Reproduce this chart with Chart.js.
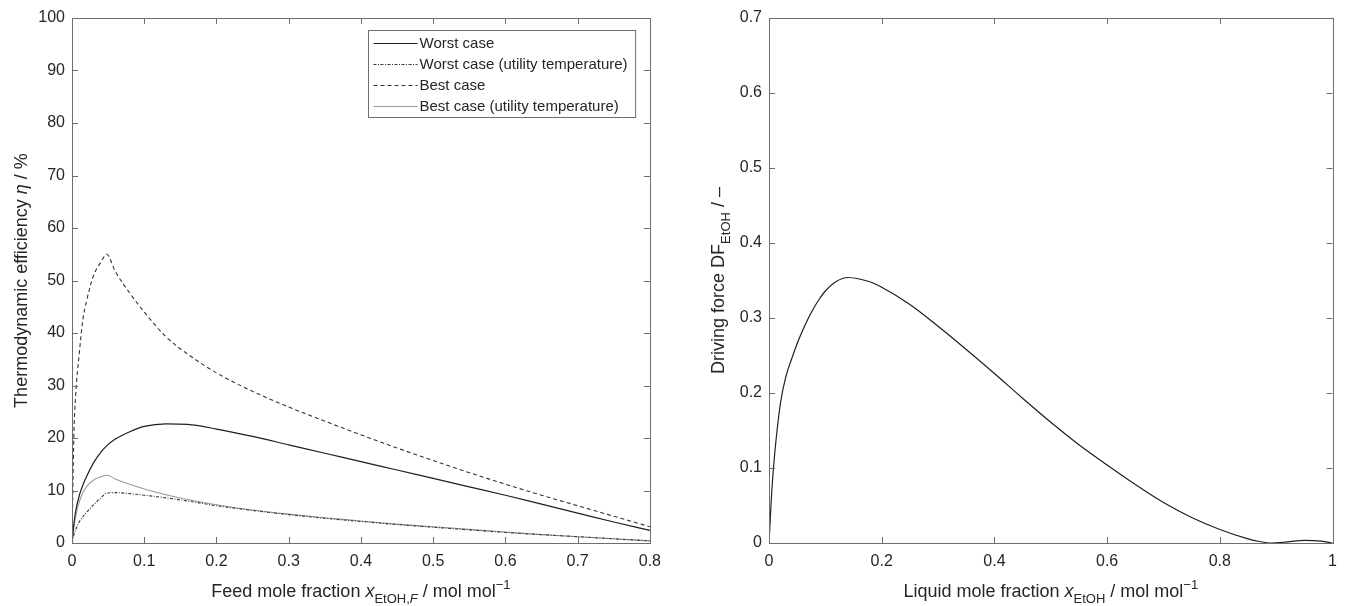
<!DOCTYPE html>
<html>
<head>
<meta charset="utf-8">
<title>Thermodynamic efficiency and driving force</title>
<script src="https://cdn.jsdelivr.net/npm/chart.js@4/dist/chart.umd.min.js"></script>
<style>
  html, body { margin: 0; padding: 0; background: #fff; }
  #wrap { position: relative; width: 1346px; height: 606px; overflow: hidden; }
  #effBox { position: absolute; left: 0; top: 0; width: 670px; height: 606px; }
  #dfBox { position: absolute; left: 680px; top: 0; width: 666px; height: 606px; }
</style>
</head>
<body>
<div id="wrap">
  <div id="effBox"><canvas id="effChart" width="670" height="606"></canvas></div>
  <div id="dfBox"><canvas id="dfChart" width="666" height="606"></canvas></div>
</div>
<script>
// ---- left panel: thermodynamic efficiency vs feed mole fraction ----
const feedX = [0, 0.0025, 0.005, 0.01, 0.015, 0.02, 0.03, 0.04, 0.048, 0.06, 0.08, 0.1, 0.13, 0.16, 0.2,
  0.25, 0.3, 0.35, 0.4, 0.45, 0.5, 0.55, 0.6, 0.65, 0.7, 0.75, 0.8];
const worstCase = [0, 3.5, 6, 9, 11, 12.6, 15.3, 17.3, 18.5, 19.8, 21.2, 22.2, 22.7, 22.6, 21.7,
  20.3, 18.7, 17.1, 15.5, 13.9, 12.3, 10.7, 9.1, 7.4, 5.7, 4.0, 2.4];
const worstUtility = [0, 1.5, 2.5, 4, 5, 5.8, 7.3, 8.6, 9.5, 9.6, 9.4, 9.1, 8.6, 8.0, 7.1,
  6.2, 5.4, 4.7, 4.1, 3.5, 3.0, 2.5, 2.0, 1.6, 1.2, 0.8, 0.4];
const bestCase = [0, 20, 28, 36, 42.5, 46, 51, 53.5, 55, 51.7, 47.6, 44.0, 39.3, 36.0, 32.4,
  28.9, 25.9, 23.2, 20.6, 18.1, 15.7, 13.4, 11.2, 9.1, 7.1, 5.1, 3.1];
const bestUtility = [0, 3, 5, 7.8, 9.6, 10.7, 12, 12.6, 12.9, 12.2, 11.2, 10.3, 9.2, 8.3, 7.3,
  6.3, 5.5, 4.8, 4.2, 3.6, 3.1, 2.6, 2.1, 1.6, 1.2, 0.8, 0.4];
const effLabels = ["Worst case", "Worst case (utility temperature)", "Best case", "Best case (utility temperature)"];
const effXTicks = [0, 0.1, 0.2, 0.3, 0.4, 0.5, 0.6, 0.7, 0.8];
const effYTicks = [0, 10, 20, 30, 40, 50, 60, 70, 80, 90, 100];

// ---- right panel: driving force vs liquid mole fraction ----
const liquidX = [0, 0.005, 0.01, 0.02, 0.03, 0.04, 0.05, 0.06, 0.07, 0.08, 0.09, 0.1, 0.12, 0.14, 0.16, 0.18, 0.2, 0.25, 0.3,
  0.35, 0.4, 0.45, 0.5, 0.55, 0.6, 0.65, 0.7, 0.75, 0.8, 0.85, 0.87, 0.89, 0.92, 0.95, 0.98, 1.0];
const drivingForce = [0, 0.07, 0.118, 0.185, 0.222, 0.245, 0.266, 0.284, 0.3, 0.314, 0.326, 0.336, 0.349, 0.354, 0.352, 0.348, 0.341, 0.318, 0.289,
  0.258, 0.226, 0.193, 0.161, 0.131, 0.104, 0.078, 0.054, 0.034, 0.018, 0.0055, 0.002, 0, 0.0015, 0.0035, 0.0025, 0];
const dfXTicks = [0, 0.2, 0.4, 0.6, 0.8, 1];
const dfYTicks = [0, 0.1, 0.2, 0.3, 0.4, 0.5, 0.6, 0.7];

const FONT = "'Liberation Sans', Arial, Helvetica, sans-serif";
const TEXT = "#262626";
const AXIS = "#6e6e6e";

function pts(xs, ys) {
  return xs.map((x, i) => ({ x: x, y: ys[i] }));
}

/** MATLAB-like box with inward tick marks on all four sides. */
const boxTicks = {
  id: "boxTicks",
  afterDatasetsDraw(chart) {
    const ctx = chart.ctx;
    const a = chart.chartArea;
    const xs = chart.scales.x, ys = chart.scales.y;
    const len = 6;
    ctx.save();
    ctx.strokeStyle = AXIS;
    ctx.lineWidth = 1;
    ctx.beginPath();
    xs.ticks.forEach((t) => {
      const p = Math.round(xs.getPixelForValue(t.value)) + 0.5;
      ctx.moveTo(p, a.bottom); ctx.lineTo(p, a.bottom - len);
      ctx.moveTo(p, a.top); ctx.lineTo(p, a.top + len);
    });
    ys.ticks.forEach((t) => {
      const p = Math.round(ys.getPixelForValue(t.value)) + 0.5;
      ctx.moveTo(a.left, p); ctx.lineTo(a.left + len, p);
      ctx.moveTo(a.right, p); ctx.lineTo(a.right - len, p);
    });
    ctx.stroke();
    ctx.strokeRect(Math.round(a.left) + 0.5, Math.round(a.top) + 0.5,
      Math.round(a.right - a.left), Math.round(a.bottom - a.top));
    ctx.restore();
  },
};

/** Draws text made of runs (subscripts, superscripts, italics), centred on (cx, cy). */
function drawRich(ctx, parts, cx, cy, rotate) {
  ctx.save();
  ctx.translate(cx, cy);
  if (rotate) ctx.rotate(-Math.PI / 2);
  ctx.fillStyle = TEXT;
  ctx.textBaseline = "alphabetic";
  ctx.textAlign = "left";
  let total = 0;
  parts.forEach((p) => {
    ctx.font = (p.italic ? "italic " : "") + p.size + "px " + FONT;
    p.w = ctx.measureText(p.t).width;
    total += p.w;
  });
  let x = -total / 2;
  parts.forEach((p) => {
    ctx.font = (p.italic ? "italic " : "") + p.size + "px " + FONT;
    ctx.fillText(p.t, x, p.dy || 0);
    x += p.w;
  });
  ctx.restore();
}

const richTitles = {
  id: "richTitles",
  afterDraw(chart, args, opts) {
    const a = chart.chartArea;
    if (opts.x) drawRich(chart.ctx, opts.x, (a.left + a.right) / 2, opts.xBaseline, false);
    if (opts.y) drawRich(chart.ctx, opts.y, opts.yCenter, (a.top + a.bottom) / 2 , true);
  },
};

/** Boxed legend inside the plot, top right, using the datasets' own line styles. */
const boxLegend = {
  id: "boxLegend",
  afterDraw(chart, args, opts) {
    if (!opts.show) return;
    const ctx = chart.ctx;
    const sets = chart.data.datasets;
    ctx.save();
    ctx.font = "15px " + FONT;
    let textW = 0;
    sets.forEach((d) => { textW = Math.max(textW, ctx.measureText(d.label).width); });
    const rowH = 21;
    const lineW = 44;
    const w = 5 + lineW + 2 + textW + 8;
    const h = sets.length * rowH + 3;
    const x0 = Math.round(chart.chartArea.right - opts.right - w) + 0.5;
    const y0 = Math.round(chart.chartArea.top + opts.top) + 0.5;
    ctx.fillStyle = "#fff";
    ctx.fillRect(x0, y0, w, h);
    ctx.strokeStyle = AXIS;
    ctx.lineWidth = 1;
    ctx.strokeRect(x0, y0, w, h);
    sets.forEach((d, i) => {
      const cy = y0 + 2 + rowH * i + rowH / 2;
      ctx.strokeStyle = d.borderColor;
      ctx.lineWidth = d.borderWidth;
      ctx.setLineDash(d.borderDash || []);
      ctx.beginPath();
      ctx.moveTo(x0 + 5, Math.round(cy) + 0.5);
      ctx.lineTo(x0 + 5 + lineW, Math.round(cy) + 0.5);
      ctx.stroke();
      ctx.setLineDash([]);
      ctx.fillStyle = TEXT;
      ctx.textBaseline = "middle";
      ctx.fillText(d.label, x0 + 5 + lineW + 2, cy + 1);
    });
    ctx.restore();
  },
};

function axisScale(tickVals, min, max, fitKey, fitSize, pad) {
  return {
    type: "linear",
    min: min,
    max: max,
    grid: { display: false, drawTicks: false },
    border: { display: false },
    afterBuildTicks: (s) => { s.ticks = tickVals.map((v) => ({ value: v })); },
    afterFit: (s) => { s[fitKey] = fitSize; },
    ticks: {
      color: TEXT,
      padding: pad,
      maxRotation: 0,
      autoSkip: false,
      font: { family: FONT, size: 16 },
      callback: (v) => String(v),
    },
  };
}

const lineBase = {
  pointRadius: 0,
  fill: false,
  cubicInterpolationMode: "monotone",
};

new Chart(document.getElementById("effChart"), {
  type: "line",
  data: {
    datasets: [
      { ...lineBase, label: effLabels[0], data: pts(feedX, worstCase), borderColor: "#1f1f1f", borderWidth: 1.2 },
      { ...lineBase, label: effLabels[1], data: pts(feedX, worstUtility), borderColor: "#3a3a3a", borderWidth: 1.1, borderDash: [3, 1.5, 1, 1.5] },
      { ...lineBase, label: effLabels[2], data: pts(feedX, bestCase), borderColor: "#333", borderWidth: 1.1, borderDash: [4, 3] },
      { ...lineBase, label: effLabels[3], data: pts(feedX, bestUtility), borderColor: "#9a9a9a", borderWidth: 1.1 },
    ],
  },
  options: {
    responsive: false,
    animation: false,
    layout: { padding: { top: 18, right: 15, left: 0, bottom: 0 } },
    scales: {
      x: axisScale(effXTicks, 0, 0.8, "height", 63, 9),
      y: axisScale(effYTicks, 0, 100, "width", 72, 7),
    },
    plugins: {
      legend: { display: false },
      tooltip: { enabled: false },
      boxLegend: { show: true, right: 15, top: 12 },
      richTitles: {
        xBaseline: 597,
        x: [
          { t: "Feed mole fraction ", size: 18 },
          { t: "x", size: 18, italic: true },
          { t: "EtOH,", size: 13, dy: 6 },
          { t: "F", size: 13, dy: 6, italic: true },
          { t: " / mol mol", size: 18 },
          { t: "\u22121", size: 13, dy: -8 },
        ],
        yCenter: 27,
        y: [
          { t: "Thermodynamic efficiency ", size: 18 },
          { t: "\u03b7", size: 18, italic: true },
          { t: " / %", size: 18 },
        ],
      },
    },
  },
  plugins: [boxTicks, richTitles, boxLegend],
});

new Chart(document.getElementById("dfChart"), {
  type: "line",
  data: {
    datasets: [
      { ...lineBase, label: "Driving force", data: pts(liquidX, drivingForce), borderColor: "#1f1f1f", borderWidth: 1.2 },
    ],
  },
  options: {
    responsive: false,
    animation: false,
    layout: { padding: { top: 18, right: 6, left: 0, bottom: 0 } },
    scales: {
      x: axisScale(dfXTicks, 0, 1, "height", 63, 9),
      y: axisScale(dfYTicks, 0, 0.7, "width", 89, 7),
    },
    plugins: {
      legend: { display: false },
      tooltip: { enabled: false },
      boxLegend: { show: false },
      richTitles: {
        xBaseline: 597,
        x: [
          { t: "Liquid mole fraction ", size: 18 },
          { t: "x", size: 18, italic: true },
          { t: "EtOH", size: 13, dy: 6 },
          { t: " / mol mol", size: 18 },
          { t: "\u22121", size: 13, dy: -8 },
        ],
        yCenter: 44,
        y: [
          { t: "Driving force DF", size: 18 },
          { t: "EtOH", size: 13, dy: 6 },
          { t: " / \u2013", size: 18 },
        ],
      },
    },
  },
  plugins: [boxTicks, richTitles],
});
</script>
</body>
</html>
